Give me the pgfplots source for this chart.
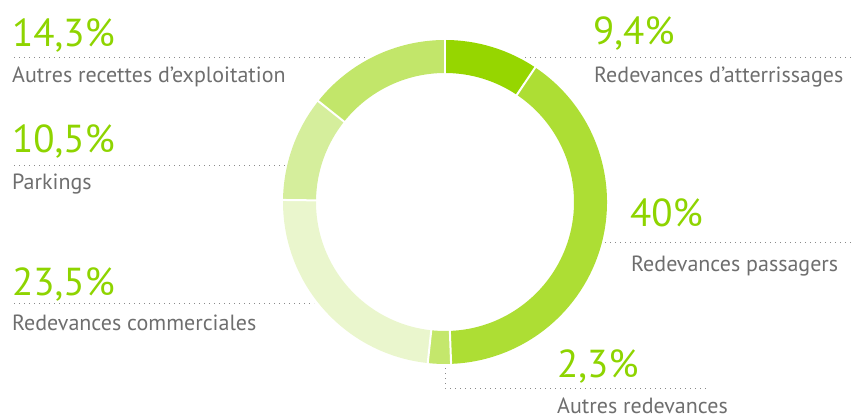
\documentclass[border=0pt]{standalone}
\usepackage{pgfplots}
\pgfplotsset{compat=1.18}
\usepackage{fontspec}
\setmainfont{PT Sans}

\definecolor{pct}{HTML}{8ED400}
\definecolor{lbl}{HTML}{6E6E6E}
\definecolor{dots}{HTML}{8A8A8A}
\definecolor{s1}{HTML}{96D600}
\definecolor{s2}{HTML}{ADDE34}
\definecolor{s3}{HTML}{C4E76C}
\definecolor{s4}{HTML}{EAF6CD}
\definecolor{s5}{HTML}{D5EE9C}
\definecolor{s6}{HTML}{C2E66A}

\tikzset{
  pcttext/.style={anchor=base west, inner sep=0pt, text=pct, font=\fontsize{39}{39}\selectfont},
  lbltext/.style={anchor=base west, inner sep=0pt, text=lbl, font=\fontsize{22}{22}\selectfont},
  leader/.style={dots, line width=0.9pt, dash pattern=on 0.9pt off 4.1pt},
}

\begin{document}
\begin{tikzpicture}
\begin{axis}[
    scale only axis,
    width=853pt, height=419pt,
    xmin=0, xmax=853,
    ymin=0, ymax=419,
    y dir=reverse,
    hide axis,
    clip=false,
]
% corners and donut centre
\coordinate (sw) at (axis cs:0,419);
\coordinate (ne) at (axis cs:853,0);
\coordinate (c) at (axis cs:445,202);

% leader lines
\draw[leader] (axis cs:14,57) -- (axis cs:368,57);
\draw[leader] (axis cs:525,57) -- (axis cs:851,57);
\draw[leader] (axis cs:14,165) -- (axis cs:286,165);
\draw[leader] (axis cs:605,242) -- (axis cs:851,242);
\draw[leader] (axis cs:14,303) -- (axis cs:314,303);
\draw[leader] (axis cs:445,368) -- (axis cs:445,388) -- (axis cs:708,388);

% percentages and labels
\node[pcttext] at (axis cs:12,47) {14,3\%};
\node[lbltext] at (axis cs:12,83) {Autres recettes d’exploitation};
\node[pcttext] at (axis cs:593,45) {9,4\%};
\node[lbltext] at (axis cs:594,83) {Redevances d’atterrissages};
\node[pcttext] at (axis cs:12,153) {10,5\%};
\node[lbltext] at (axis cs:12,190) {Parkings};
\node[pcttext] at (axis cs:630,227) {40\%};
\node[lbltext] at (axis cs:631,272) {Redevances passagers};
\node[pcttext] at (axis cs:12,295) {23,5\%};
\node[lbltext] at (axis cs:12,330) {Redevances commerciales};
\node[pcttext] at (axis cs:557,377) {2,3\%};
\node[lbltext] at (axis cs:557,413) {Autres redevances};
\end{axis}

% donut slices, clockwise from the top
\xdef\startang{90}
\foreach \v/\c in {9.4/s1,40/s2,2.3/s3,23.5/s4,10.5/s5,14.3/s6}{
  \pgfmathsetmacro\endang{\startang-3.6*\v}
  \fill[\c] ([shift={(\startang:162pt)}]c)
    arc[start angle=\startang, end angle=\endang, radius=162pt]
    -- ([shift={(\endang:129pt)}]c)
    arc[start angle=\endang, end angle=\startang, radius=129pt] -- cycle;
  \xdef\startang{\endang}
}
\xdef\startang{90}
\foreach \v in {9.4,40,2.3,23.5,10.5,14.3}{
  \draw[white, line width=2pt] ([shift={(\startang:127pt)}]c) -- ([shift={(\startang:164pt)}]c);
  \pgfmathsetmacro\endang{\startang-3.6*\v}
  \xdef\startang{\endang}
}

\pgfresetboundingbox
\path[use as bounding box] (sw) rectangle (ne);
\end{tikzpicture}
\end{document}
